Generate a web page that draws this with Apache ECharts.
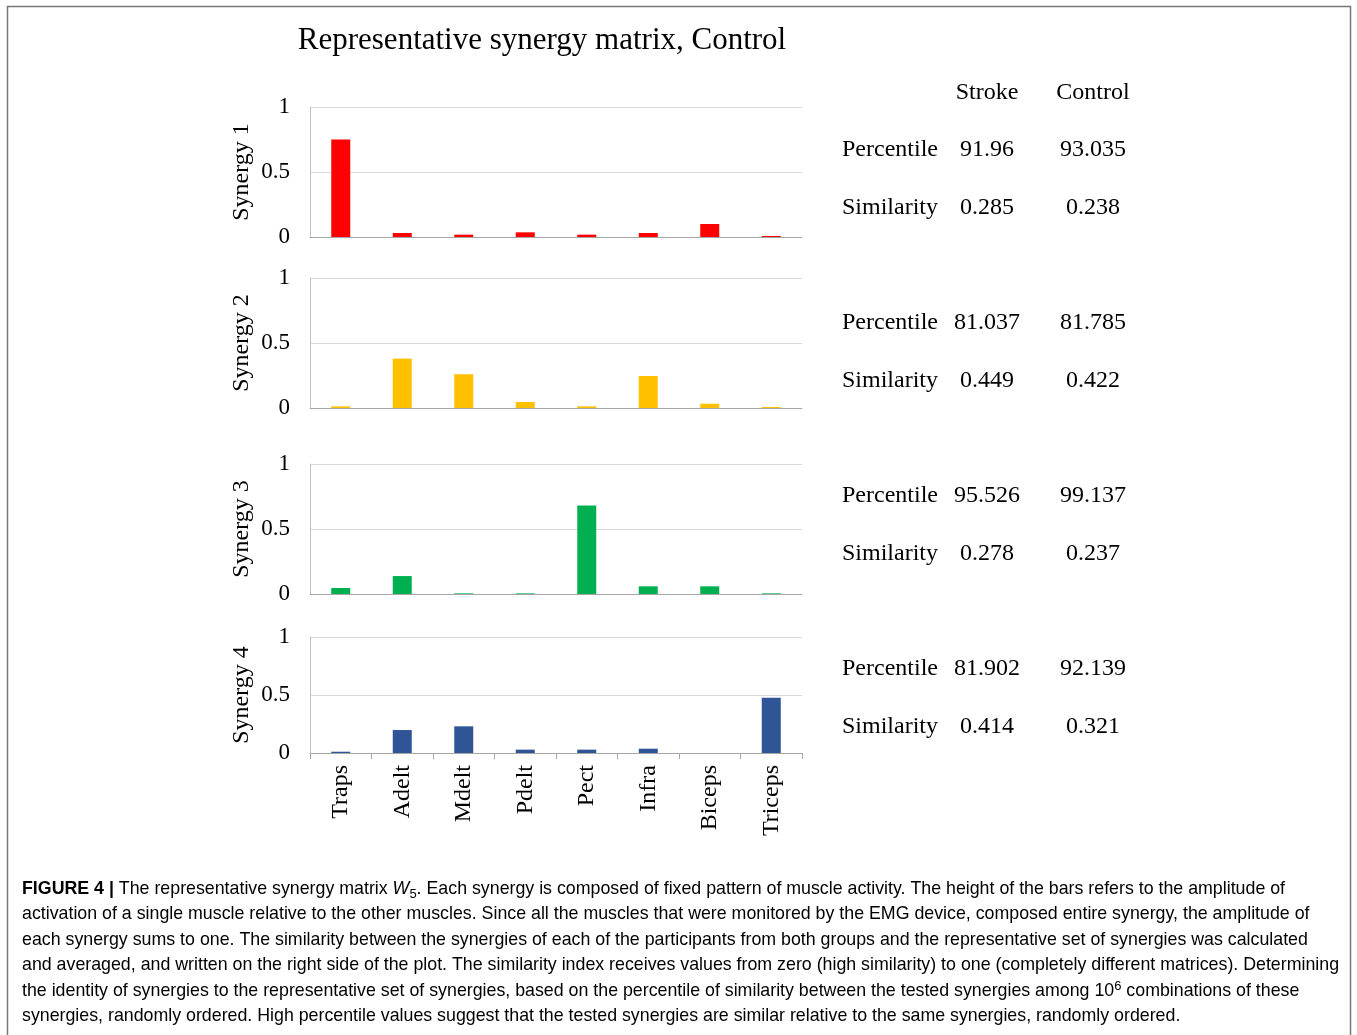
<!DOCTYPE html>
<html>
<head>
<meta charset="utf-8">
<script src="https://cdn.jsdelivr.net/npm/echarts@6/dist/echarts.min.js"></script>
<style>
html,body{margin:0;padding:0;background:#fff;}
#chart{width:1357px;height:1035px;}
</style>
</head>
<body>
<div id="chart"></div>
<script>
// ---- data ----
const muscles = ['Traps', 'Adelt', 'Mdelt', 'Pdelt', 'Pect', 'Infra', 'Biceps', 'Triceps'];
const synergy1 = [0.75, 0.031, 0.018, 0.036, 0.018, 0.031, 0.10, 0.008];
const synergy2 = [0.013, 0.38, 0.26, 0.046, 0.013, 0.246, 0.033, 0.008];
const synergy3 = [0.046, 0.138, 0.005, 0.005, 0.68, 0.059, 0.059, 0.005];
const synergy4 = [0.011, 0.198, 0.23, 0.029, 0.029, 0.037, 0, 0.477];
const synergyNames = ['Synergy 1', 'Synergy 2', 'Synergy 3', 'Synergy 4'];
const yTickLabels = ['0', '0.5', '1'];
const strokePercentile = ['91.96', '81.037', '95.526', '81.902'];
const controlPercentile = ['93.035', '81.785', '99.137', '92.139'];
const strokeSimilarity = ['0.285', '0.449', '0.278', '0.414'];
const controlSimilarity = ['0.238', '0.422', '0.237', '0.321'];
const titleText = 'Representative synergy matrix, Control';

// ---- layout / style ----
const serif = '"Liberation Serif", "DejaVu Serif", serif';
const sans = '"Liberation Sans", Arial, sans-serif';
const colors = ['#FF0000', '#FFC000', '#00B050', '#2F5597'];
const allSeries = [synergy1, synergy2, synergy3, synergy4];
const grids = [
  {left: 310, top: 107, width: 492, height: 130},
  {left: 310, top: 278, width: 492, height: 130},
  {left: 310, top: 464, width: 492, height: 130},
  {left: 310, top: 637, width: 492, height: 116}
];

const chart = echarts.init(document.getElementById('chart'), null, {renderer: 'canvas'});

const xAxes = grids.map((g, i) => ({
  type: 'category',
  gridIndex: i,
  data: muscles,
  boundaryGap: true,
  axisLine: {show: true, lineStyle: {color: '#a6a6a6', width: 1}},
  axisTick: {show: i === 3, alignWithLabel: false, length: 6, lineStyle: {color: '#a6a6a6'}},
  axisLabel: i === 3 ? {
    show: true, rotate: 90, margin: 12, fontFamily: serif, fontSize: 24, color: '#000'
  } : {show: false},
  splitLine: {show: false}
}));

const yAxes = grids.map((g, i) => ({
  type: 'value',
  gridIndex: i,
  min: 0, max: 1, interval: 0.5,
  name: synergyNames[i],
  nameLocation: 'middle',
  nameGap: 56,
  nameRotate: 90,
  nameTextStyle: {fontFamily: serif, fontSize: 24, color: '#000'},
  axisLine: {show: true, lineStyle: {color: '#bfbfbf', width: 1}},
  axisTick: {show: false},
  axisLabel: {
    margin: 20, fontFamily: serif, fontSize: 23, color: '#000',
    padding: [3, 0, 0, 0],
    formatter: v => yTickLabels[Math.round(v * 2)]
  },
  splitLine: {show: true, lineStyle: {color: '#d9d9d9', width: 1}}
}));

const series = allSeries.map((d, i) => ({
  type: 'bar',
  xAxisIndex: i,
  yAxisIndex: i,
  data: d,
  barWidth: 19,
  itemStyle: {color: colors[i]},
  silent: true
}));

// right side table
const graphics = [];
const rowY = [[150, 208], [323, 381], [496, 554], [669, 727]];
const colStroke = 987, colControl = 1093, labelX = 842;
function tText(x, y, text, align) {
  graphics.push({type: 'text', x: x, y: y, style: {
    text: text, fontFamily: serif, fontSize: 24, fill: '#000',
    align: align, verticalAlign: 'middle'
  }});
}
tText(colStroke, 93, 'Stroke', 'center');
tText(colControl, 93, 'Control', 'center');
for (let i = 0; i < 4; i++) {
  tText(labelX, rowY[i][0], 'Percentile', 'left');
  tText(colStroke, rowY[i][0], strokePercentile[i], 'center');
  tText(colControl, rowY[i][0], controlPercentile[i], 'center');
  tText(labelX, rowY[i][1], 'Similarity', 'left');
  tText(colStroke, rowY[i][1], strokeSimilarity[i], 'center');
  tText(colControl, rowY[i][1], controlSimilarity[i], 'center');
}
// title
graphics.push({type: 'text', x: 542, y: 41, style: {
  text: titleText, fontFamily: serif, fontSize: 31, fill: '#000', align: 'center', verticalAlign: 'middle'
}});
// frame
graphics.push({type: 'rect', shape: {x: 7.5, y: 6.5, width: 1343, height: 1040},
  style: {fill: 'none', stroke: '#777', lineWidth: 1.5}, z: -1});

// caption
const capFont = 17.8;
const capColor = '#404040';
const capRich = {
  n: {fontFamily: sans, fontSize: capFont, color: capColor},
  b: {fontFamily: sans, fontSize: capFont, fontWeight: 'bold', color: capColor},
  i: {fontFamily: sans, fontSize: capFont, fontStyle: 'italic', color: capColor},
  sub: {fontFamily: sans, fontSize: 13, color: capColor, padding: [10, 0, 0, 0]},
  sup: {fontFamily: sans, fontSize: 13, color: capColor, padding: [0, 0, 10, 0]}
};
const captionLines = [
  '{b|FIGURE 4 |}{n| The representative synergy matrix }{i|W}{sub|5}{n|. Each synergy is composed of fixed pattern of muscle activity. The height of the bars refers to the amplitude of}',
  '{n|activation of a single muscle relative to the other muscles. Since all the muscles that were monitored by the EMG device, composed entire synergy, the amplitude of}',
  '{n|each synergy sums to one. The similarity between the synergies of each of the participants from both groups and the representative set of synergies was calculated}',
  '{n|and averaged, and written on the right side of the plot. The similarity index receives values from zero (high similarity) to one (completely different matrices). Determining}',
  '{n|the identity of synergies to the representative set of synergies, based on the percentile of similarity between the tested synergies among 10}{sup|6}{n| combinations of these}',
  '{n|synergies, randomly ordered. High percentile values suggest that the tested synergies are similar relative to the same synergies, randomly ordered.}'
];
const capY = [889, 914.5, 940, 965.5, 991, 1016];
captionLines.forEach((t, k) => {
  graphics.push({type: 'text', x: 22, y: capY[k], style: {
    text: t, rich: capRich, align: 'left', verticalAlign: 'middle'
  }});
});

chart.setOption({
  animation: false,
  backgroundColor: '#fff',
  grid: grids,
  xAxis: xAxes,
  yAxis: yAxes,
  series: series,
  graphic: graphics
});
</script>
</body>
</html>
